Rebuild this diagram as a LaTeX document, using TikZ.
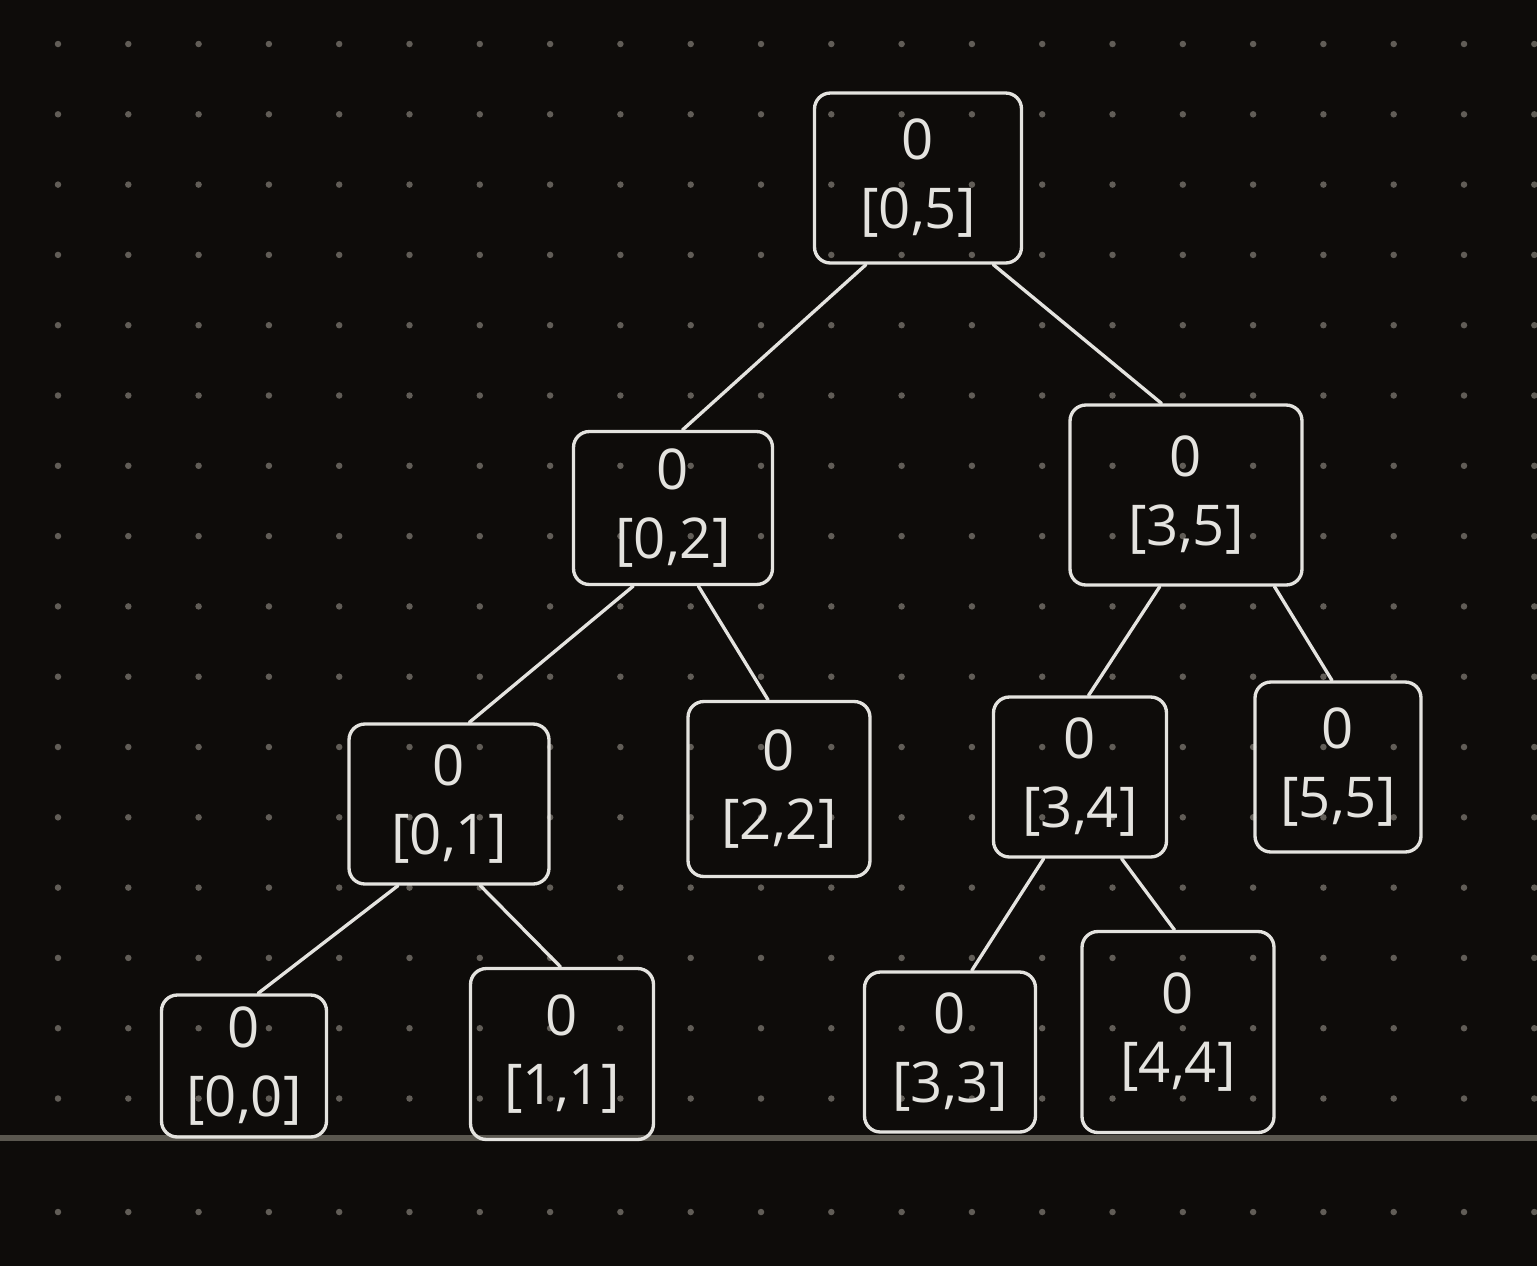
\documentclass[tikz,border=0pt]{standalone}
\usepackage{fontspec}
\setmainfont{Open Sans}
\usetikzlibrary{positioning}
\definecolor{board}{HTML}{0E0C0A}
\definecolor{chalk}{HTML}{E4E3DF}
\definecolor{dotc}{HTML}{615D57}
\definecolor{rulec}{HTML}{5A574F}
\tikzset{
	x=0.02cm, y=-0.02cm, % one unit is one pixel of the sketch
	seg/.style={draw=chalk, text=chalk, line width=1.9pt, rounded corners=9pt,
		inner sep=0pt, align=center, font=\fontsize{32}{39}\selectfont}, % a segment box
	link/.style={draw=chalk, line width=1.9pt, line cap=round}, % tree edge
}

\begin{document}
\begin{tikzpicture}
	\useasboundingbox (0,0) rectangle (1537,1265);
	% paper with dots
	\fill[board] (-20,-20) rectangle (1557,1285);
	\foreach \i in {0,...,21} {
		\foreach \j in {0,...,15}
			\fill[dotc] (58+70.3*\i, 44+70.3*\j) circle (0.065cm);
		\fill[dotc] (58+70.3*\i, 1212) circle (0.065cm);
	}
	\draw[rulec, line width=0.11cm] (-20,1138) -- (1557,1138);

	% segment boxes
	\node[seg, minimum width=4.14cm, minimum height=3.40cm] (r) at (918,178) {0\\{}[0,5]};
	\node[seg, minimum width=3.98cm, minimum height=3.06cm] (a) at (673,508) {0\\{}[0,2]};
	\node[seg, minimum width=4.64cm, minimum height=3.60cm] (b) at (1186,495) {0\\{}[3,5]};
	\node[seg, minimum width=4.00cm, minimum height=3.20cm] (c) at (449,804) {0\\{}[0,1]};
	\node[seg, minimum width=3.64cm, minimum height=3.50cm] (d) at (779,789) {0\\{}[2,2]};
	\node[seg, minimum width=3.46cm, minimum height=3.20cm] (e) at (1080,777) {0\\{}[3,4]};
	\node[seg, minimum width=3.32cm, minimum height=3.40cm] (f) at (1338,767) {0\\{}[5,5]};
	\node[seg, minimum width=3.30cm, minimum height=2.84cm] (g) at (244,1066) {0\\{}[0,0]};
	\node[seg, minimum width=3.66cm, minimum height=3.42cm] (h) at (562,1054) {0\\{}[1,1]};
	\node[seg, minimum width=3.42cm, minimum height=3.20cm] (i) at (950,1052) {0\\{}[3,3]};
	\node[seg, minimum width=3.84cm, minimum height=4.02cm] (j) at (1178,1032) {0\\{}[4,4]};

	% edges
	\draw[link] (r.239) -- (a.83);
	\draw[link] (r.311) -- (b.105);
	\draw[link] (a.243) -- (c.76);
	\draw[link] (a.288) -- (d.97);
	\draw[link] (b.254) -- (e.84);
	\draw[link] (b.314) -- (f.94);
	\draw[link] (c.238) -- (g.79);
	\draw[link] (c.291) -- (h.91);
	\draw[link] (e.246) -- (i.75);
	\draw[link] (e.297) -- (j.92);
\end{tikzpicture}
\end{document}
